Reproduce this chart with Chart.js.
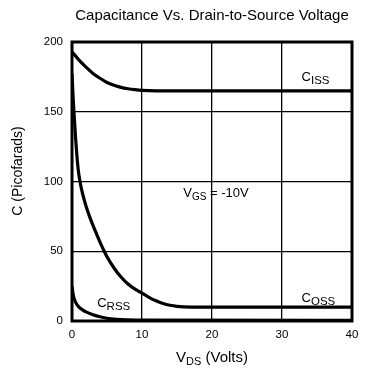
<!DOCTYPE html>
<html>
<head>
<meta charset="utf-8">
<script src="https://cdn.jsdelivr.net/npm/chart.js@4.4.1/dist/chart.umd.min.js"></script>
<style>
  body { margin: 0; background: #fff; }
  canvas { display: block; }
</style>
</head>
<body>
<canvas id="grafico" width="376" height="378"></canvas>
<script>
// dados (VDS em volts, C em pF)
const cissV = [0, 1, 2, 3, 4, 5, 6, 7, 8, 9, 10, 12, 40];
const cissC = [193, 187, 182, 177.5, 174, 171, 169, 167.5, 166.5, 165.8, 165.3, 165, 165];

const cossV = [0, 0.15, 0.3, 0.5, 0.7, 0.9, 1.14, 1.5, 2, 2.5, 3, 3.5, 4, 4.6, 5, 6, 7, 8, 9, 10, 11, 12, 13, 14, 15, 16, 17, 40];
const cossC = [177, 161, 148, 132, 118.5, 108, 100, 91.5, 82.5, 75, 68.5, 62.5, 56.5, 50, 46, 38, 31.5, 26.5, 22.8, 20, 17, 14.5, 12.6, 11.3, 10.5, 10.1, 10, 10];

const crssV = [0, 0.2, 0.5, 1, 1.5, 2, 3, 4, 5, 6, 8, 10, 40];
const crssC = [25, 18, 13.5, 10, 8, 6.5, 4.5, 3, 2, 1.3, 0.8, 0.6, 0.5];

const xTicks = [0, 10, 20, 30, 40];
const yTicks = [0, 50, 100, 150, 200];

const pontos = (vs, cs) => vs.map((v, i) => ({ x: v, y: cs[i] }));

const fonte = '"Liberation Sans", Arial, Helvetica, sans-serif';

// escreve texto com subscrito, ex: C + ISS
function textoSub(ctx, x, y, main, sub, rest, tamSub) {
    ctx.font = "13px " + fonte;
    ctx.fillText(main, x, y);
    let w = ctx.measureText(main).width;
    ctx.font = (tamSub || 10) + "px " + fonte;
    ctx.fillText(sub, x + w, y + 3);
    w += ctx.measureText(sub).width;
    if (rest) {
        ctx.font = "13px " + fonte;
        ctx.fillText(rest, x + w, y);
    }
}

const extras = {
    id: "extras",
    afterDraw(chart) {
        const ctx = chart.ctx;
        const area = chart.chartArea;
        const sx = chart.scales.x;
        const sy = chart.scales.y;
        ctx.save();
        // moldura
        ctx.strokeStyle = "#000";
        ctx.lineWidth = 3;
        ctx.strokeRect(area.left, area.top, area.right - area.left, area.bottom - area.top);

        ctx.fillStyle = "#000";
        ctx.textBaseline = "alphabetic";
        ctx.textAlign = "left";

        // título
        ctx.font = "15px " + fonte;
        ctx.textAlign = "center";
        ctx.fillText("Capacitance Vs. Drain-to-Source Voltage", 212, 20);
        ctx.textAlign = "left";

        // rótulos das curvas
        textoSub(ctx, sx.getPixelForValue(32.8), sy.getPixelForValue(172), "C", "ISS", null, 11.5);
        textoSub(ctx, sx.getPixelForValue(32.8), sy.getPixelForValue(13.6), "C", "OSS", null, 11.5);
        textoSub(ctx, sx.getPixelForValue(3.6), sy.getPixelForValue(10), "C", "RSS", null, 11.5);
        textoSub(ctx, sx.getPixelForValue(15.9), sy.getPixelForValue(88.6), "V", "GS", " = -10V");

        // título do eixo x
        ctx.font = "15px " + fonte;
        let w1 = ctx.measureText("V").width;
        ctx.font = "11px " + fonte;
        let w2 = ctx.measureText("DS").width;
        ctx.font = "15px " + fonte;
        let w3 = ctx.measureText(" (Volts)").width;
        let x0 = 212 - (w1 + w2 + w3) / 2;
        ctx.fillText("V", x0, 362);
        ctx.font = "11px " + fonte;
        ctx.fillText("DS", x0 + w1, 365);
        ctx.font = "15px " + fonte;
        ctx.fillText(" (Volts)", x0 + w1 + w2, 362);

        // título do eixo y
        ctx.font = "14px " + fonte;
        ctx.translate(18, 171);
        ctx.rotate(-Math.PI / 2);
        ctx.textAlign = "center";
        ctx.textBaseline = "middle";
        ctx.fillText("C (Picofarads)", 0, 0);
        ctx.restore();
    }
};

const linha = (dados) => ({
    data: dados,
    borderColor: "#000",
    borderWidth: 3.2,
    pointRadius: 0,
    fill: false,
    cubicInterpolationMode: "monotone"
});

new Chart(document.getElementById("grafico"), {
    type: "line",
    data: {
        datasets: [
            linha(pontos(cissV, cissC)),
            linha(pontos(cossV, cossC)),
            linha(pontos(crssV, crssC))
        ]
    },
    options: {
        responsive: false,
        animation: false,
        layout: { padding: { left: 0, right: 24, top: 42, bottom: 0 } },
        plugins: {
            legend: { display: false },
            tooltip: { enabled: false }
        },
        scales: {
            x: {
                type: "linear",
                min: 0,
                max: 40,
                afterFit: (s) => { s.height = 57; },
                afterBuildTicks: (s) => { s.ticks = xTicks.map(v => ({ value: v })); },
                grid: { color: "#000", lineWidth: 1.3, drawTicks: false },
                border: { display: false },
                ticks: { color: "#000", padding: 7, font: { size: 11.5, family: fonte } }
            },
            y: {
                type: "linear",
                min: 0,
                max: 200,
                afterFit: (s) => { s.width = 72; },
                afterBuildTicks: (s) => { s.ticks = yTicks.map(v => ({ value: v })); },
                grid: { color: "#000", lineWidth: 1.3, drawTicks: false },
                border: { display: false },
                ticks: { color: "#000", padding: 9, font: { size: 11.5, family: fonte } }
            }
        }
    },
    plugins: [extras]
});
</script>
</body>
</html>
